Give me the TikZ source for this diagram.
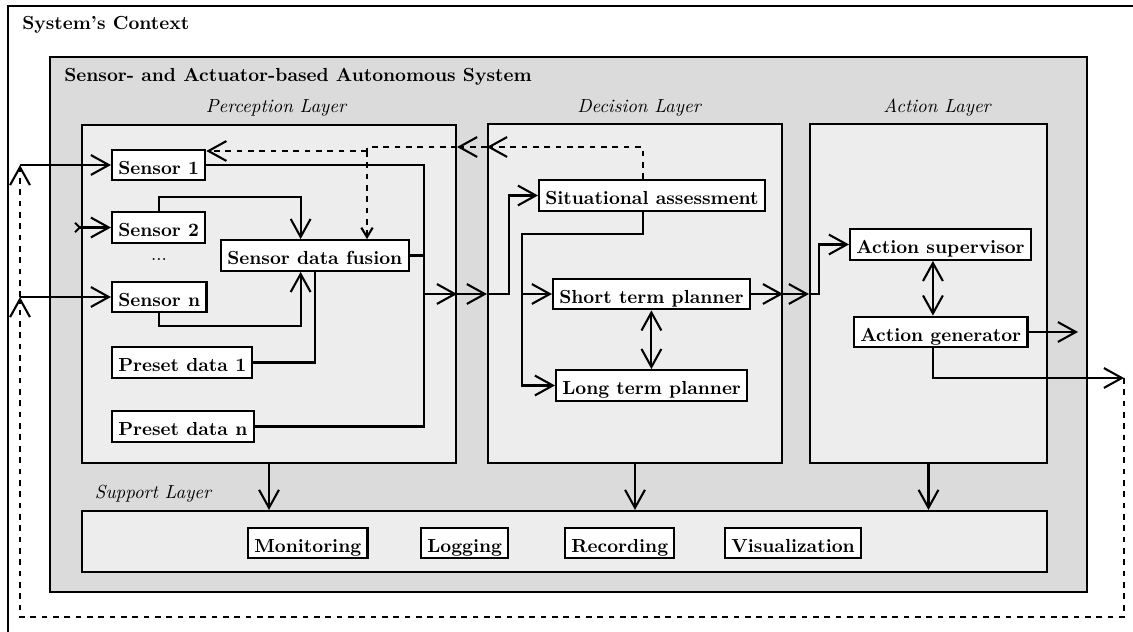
\documentclass[tikz,border=0pt]{standalone}
\usepackage{tikz}
\usetikzlibrary{arrows.meta,fit}

\begin{document}
\begin{tikzpicture}[x=0.529pt,y=-0.529pt,line width=1.1pt,
  >={Straight Barb[length=9.5pt,width=10.5pt]},
  blk/.style={draw,fill=white,font=\bfseries,text height=9.6pt,text depth=0pt,inner sep=3.33pt,anchor=west},
  layer/.style={draw,fill=black!7,inner sep=0pt},
  lbl/.style={font=\itshape,anchor=base},
  fb/.style={dashed}]
\useasboundingbox (0,0) rectangle (1133,632);
\draw (8,6) rectangle (1160,660);
\node[anchor=base west,font=\bfseries] (CT) at (15,30) {System's Context};
\node[draw,fill=black!14,inner sep=0pt,fit={(50,57) (1087,592)}] (SYS) {};
\node[anchor=base west,font=\bfseries] (SysT) at (57,82) {Sensor- and Actuator-based Autonomous System};
\node[layer,fit={(82,125) (456,463)}] (PL) {};
\node[layer,fit={(488,124) (782,463)}] (DL) {};
\node[layer,fit={(810,124) (1047,463)}] (AL) {};
\node[layer,fit={(82,511) (1047,572)}] (SL) {};
\node[lbl] (PLT) at (276,113) {Perception Layer};
\node[lbl] (DLT) at (639,113) {Decision Layer};
\node[lbl] (ALT) at (937,113) {Action Layer};
\node[lbl] (SLT) at (153,499) {Support Layer};
\node[blk] (S1) at (111,165) {Sensor 1};
\node[blk] (S2) at (111,227.5) {Sensor 2};
\node (Dots) at (159,260) {...};
\node[blk] (Sn) at (111,297) {Sensor n};
\node[blk] (P1) at (111,362.5) {Preset data 1};
\node[blk] (Pn) at (111,426.5) {Preset data n};
\node[blk] (F) at (220,255.5) {Sensor data fusion};
\node[blk] (SA) at (538,195.5) {Situational assessment};
\node[blk] (STP) at (552,294) {Short term planner};
\node[blk] (LTP) at (555,385.5) {Long term planner};
\node[blk] (AS) at (849,244.5) {Action supervisor};
\node[blk] (AG) at (853,332) {Action generator};
\node[blk] (Mon) at (247,543) {Monitoring};
\node[blk] (Log) at (420,543) {Logging};
\node[blk] (Rec) at (564,543) {Recording};
\node[blk] (Vis) at (724,543) {Visualization};
\coordinate (B) at (424,294);
\coordinate (T) at (0,147);
\coordinate (K) at (367,151);
\coordinate (I2) at (74,227.5);
\coordinate (L1) at (20,165);
\coordinate (L2) at (20,297);
\coordinate (J) at (522,234);
\coordinate (Out) at (1078,332);
\coordinate (R) at (1124,378);
\coordinate (Bot) at (1124,617);
\draw[->] (S2.north) -- ++(0,-14) -| ([xshift=-7.5pt]F.north);
\draw[->] (Sn.south) -- ++(0,13) -| ([xshift=-7.5pt]F.south);
\draw (P1.east) -| (F.south);
\draw (S1.east) -| (Pn.east -| B) -- (Pn.east);
\draw (F.east) -- (F.east -| B);
\draw[->] (B) -- (B -| PL.east);
\draw[->] (B -| PL.east) -- (B -| DL.west);
\draw[->] (B -| DL.west) -- ++(22,0) |- (SA.west);
\draw[->] ([xshift=-5pt]SA.south) |- (J) |- (LTP.west);
\draw[->] (STP.west -| J) -- (STP.west);
\draw[<->] (STP.south) -- (STP.south |- LTP.north);
\draw[->] (STP.east) -- (STP.east -| DL.east);
\draw[->] (STP.east -| DL.east) -- (STP.east -| AL.west);
\draw[->] (STP.east -| AL.west) -- ++(10,0) |- (AS.west);
\draw[<->] ([xshift=-4pt]AS.south) -- ([xshift=-4pt]AS.south |- AG.north);
\draw[->] (AG.east) -- (Out);
\draw[->] ([xshift=-4pt]AG.south) |- (R);
\draw[fb,->] (R) -- (Bot) -| (L2);
\draw[fb,->] (L2) -- (L1);
\draw[->] (L1) -- (S1.west);
\draw[->] (L2) -- (Sn.west);
\draw[{Straight Barb[reversed,length=2.5pt,width=5pt]}->] (I2) -- (S2.west);
\draw[fb,->] ([xshift=-5pt]SA.north) |- (DL.west |- T);
\draw[fb,->] (DL.west |- T) -- (PL.east |- T);
\draw[fb] (PL.east |- T) -| (K);
\draw[fb,->] (K) -- (K -| S1.east);
\draw[fb,-{Straight Barb[length=5pt,width=6pt]}] (K) -- (K |- F.north);
\draw[->] (PL.south) -- (PL.south |- SL.north);
\draw[->] (DL.south) -- (DL.south |- SL.north);
\draw[->] (AL.south) -- (AL.south |- SL.north);
\end{tikzpicture}
\end{document}
